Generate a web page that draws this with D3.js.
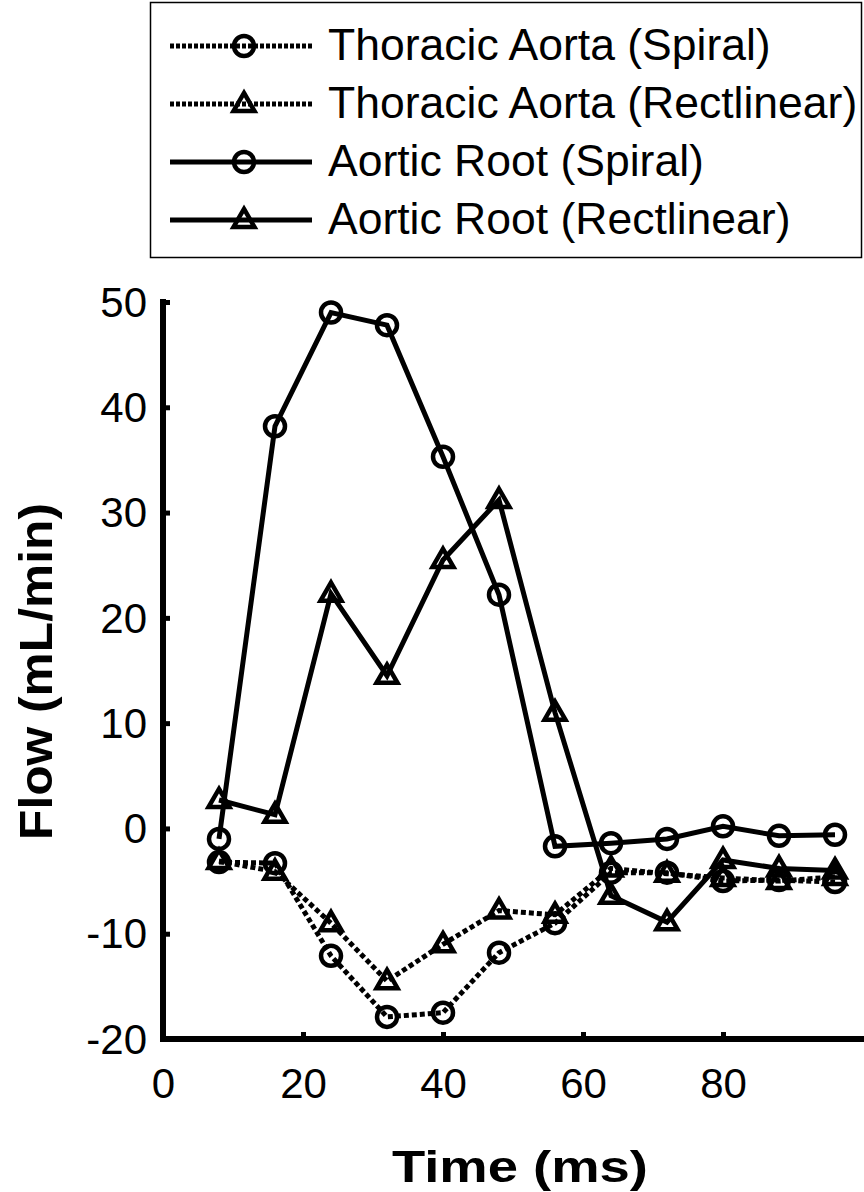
<!DOCTYPE html>
<html>
<head>
<meta charset="utf-8">
<script src="https://cdn.jsdelivr.net/npm/d3@7"></script>
<style>
  body { margin: 0; background: #fff; }
  text { font-family: "Liberation Sans", Arial, Helvetica, sans-serif; fill: #000; }
</style>
</head>
<body>
<svg id="chart" width="864" height="1192"></svg>
<script>
// time points (ms)
const times = [8, 16, 24, 32, 40, 48, 56, 64, 72, 80, 88, 96];

// flow values (mL/min)
const thoracicSpiral = [-3.2, -3.3, -12.1, -17.9, -17.5, -11.8, -9.0, -4.2, -4.2, -5.0, -4.9, -5.1];
const thoracicRect = [-3.1, -4.1, -9.0, -14.5, -11.0, -7.8, -8.2, -3.8, -4.3, -4.7, -5.0, -4.6];
const rootSpiral = [-1.0, 38.2, 49.0, 47.8, 35.3, 22.2, -1.7, -1.4, -1.0, 0.2, -0.7, -0.6];
const rootRect = [2.7, 1.3, 22.3, 14.5, 25.5, 31.2, 11.0, -6.4, -8.9, -3.0, -3.8, -4.0];

const xTicks = [0, 20, 40, 60, 80];
const yTicks = [-20, -10, 0, 10, 20, 30, 40, 50];

const seriesNames = ["Thoracic Aorta (Spiral)", "Thoracic Aorta (Rectlinear)", "Aortic Root (Spiral)", "Aortic Root (Rectlinear)"];

const series = [
  { name: seriesNames[0], values: thoracicSpiral, dotted: true, marker: "circle" },
  { name: seriesNames[1], values: thoracicRect, dotted: true, marker: "triangle" },
  { name: seriesNames[2], values: rootSpiral, dotted: false, marker: "circle" },
  { name: seriesNames[3], values: rootRect, dotted: false, marker: "triangle" }
];

const svg = d3.select("#chart");

const x = d3.scaleLinear().domain([0, 100]).range([163, 863]);
const y = d3.scaleLinear().domain([-20, 50]).range([1039, 302]);

const plain = function (d) { return String(d); };

// axes
const xAxis = svg.append("g").attr("transform", "translate(0," + y(-20) + ")")
  .call(d3.axisBottom(x).tickValues(xTicks).tickSize(-7).tickPadding(29).tickFormat(plain));
const yAxis = svg.append("g").attr("transform", "translate(" + x(0) + ",0)")
  .call(d3.axisLeft(y).tickValues(yTicks).tickSize(-7).tickPadding(16).tickFormat(plain));

[xAxis, yAxis].forEach(function (g) {
  g.select(".domain").remove();
  g.selectAll(".tick line").attr("stroke", "#000").attr("stroke-width", 5);
  g.selectAll(".tick text").style("font-size", "42px").attr("fill", "#000");
});
xAxis.selectAll(".tick text").attr("dy", "0.71em");
yAxis.selectAll(".tick text").attr("dy", "0.34em");

// axis lines
svg.append("line").attr("x1", x(0)).attr("x2", x(0)).attr("y1", y(50) - 3).attr("y2", y(-20) + 3)
  .attr("stroke", "#000").attr("stroke-width", 6);
svg.append("line").attr("x1", x(0) - 3).attr("x2", 864).attr("y1", y(-20)).attr("y2", y(-20))
  .attr("stroke", "#000").attr("stroke-width", 6);

// axis titles
svg.append("text").attr("x", 392).attr("y", 1182)
  .attr("textLength", 256).attr("lengthAdjust", "spacingAndGlyphs")
  .style("font-size", "45px").style("font-weight", "bold")
  .text("Time (ms)");
svg.append("text").attr("transform", "translate(52,840) rotate(-90)")
  .attr("textLength", 337).attr("lengthAdjust", "spacingAndGlyphs")
  .style("font-size", "47px").style("font-weight", "bold")
  .text("Flow (mL/min)");

const triangle = d3.symbol().type(d3.symbolTriangle).size(190);

function drawMarker(g, type, cx, cy) {
  if (type === "circle") {
    g.append("circle").attr("cx", cx).attr("cy", cy).attr("r", 10)
      .attr("fill", "none").attr("stroke", "#000").attr("stroke-width", 4.5);
  } else {
    g.append("path").attr("d", triangle()).attr("transform", "translate(" + cx + "," + (cy + 1) + ")")
      .attr("fill", "none").attr("stroke", "#000").attr("stroke-width", 4.5).attr("stroke-linejoin", "miter");
  }
}

const line = d3.line().x(function (d) { return x(d[0]); }).y(function (d) { return y(d[1]); });

series.forEach(function (s) {
  const pts = times.map(function (t, i) { return [t, s.values[i]]; });
  const g = svg.append("g");
  g.append("path").attr("d", line(pts)).attr("fill", "none").attr("stroke", "#000")
    .attr("stroke-width", 5)
    .attr("stroke-dasharray", s.dotted ? "5,3" : null);
  pts.forEach(function (p) { drawMarker(g, s.marker, x(p[0]), y(p[1])); });
});

// legend
const legend = svg.append("g");
legend.append("rect").attr("x", 150.5).attr("y", 2.5).attr("width", 711).attr("height", 255)
  .attr("fill", "#fff").attr("stroke", "#000").attr("stroke-width", 1.5);
const legendY = [46, 104, 162, 220];
series.forEach(function (s, i) {
  const ly = legendY[i];
  legend.append("line").attr("x1", 170).attr("x2", 312).attr("y1", ly).attr("y2", ly)
    .attr("stroke", "#000").attr("stroke-width", 5)
    .attr("stroke-dasharray", s.dotted ? "4,2" : null);
  drawMarker(legend, s.marker, 244, ly);
  legend.append("text").attr("x", 328).attr("y", ly + 14)
    .style("font-size", "44.5px").text(s.name);
});
</script>
</body>
</html>
